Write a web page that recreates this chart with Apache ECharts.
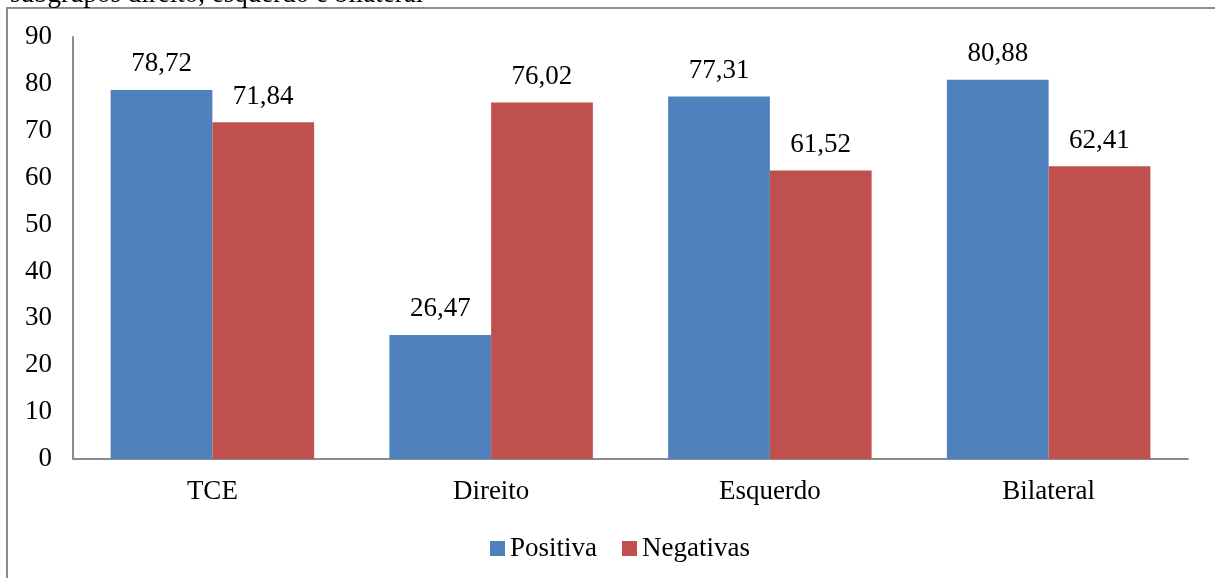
<!DOCTYPE html>
<html>
<head>
<meta charset="utf-8">
<script src="https://cdn.jsdelivr.net/npm/echarts@6/dist/echarts.min.js"></script>
<style>
  html, body { margin: 0; padding: 0; background: #ffffff; }
  #chart { width: 1215px; height: 578px; }
</style>
</head>
<body>
<div id="chart"></div>
<script>
// Categories and series values
const categories = ['TCE', 'Direito', 'Esquerdo', 'Bilateral'];
const positiva = [78.72, 26.47, 77.31, 80.88];
const negativas = [71.84, 76.02, 61.52, 62.41];
const seriesNames = ['Positiva', 'Negativas'];
const captionText = 'subgrupos direito, esquerdo e bilateral';

const FONT = '"Liberation Serif", "Times New Roman", serif';
const FS = 27;
const fmt = v => v.toFixed(2).replace('.', ',');

const chart = echarts.init(document.getElementById('chart'));

const labelStyle = {
  show: true,
  position: 'top',
  distance: 12,
  fontFamily: FONT,
  fontSize: FS,
  color: '#000',
  formatter: p => fmt(p.value)
};

chart.setOption({
  animation: false,
  backgroundColor: '#ffffff',
  textStyle: { fontFamily: FONT },
  graphic: [
    {
      type: 'rect',
      shape: { x: 7, y: 8, width: 1400, height: 800 },
      style: { fill: 'none', stroke: '#8c8c8c', lineWidth: 2 },
      silent: true
    },
    {
      type: 'text',
      x: 10,
      y: 8,
      style: {
        text: captionText,
        fontFamily: FONT,
        fontSize: FS,
        fill: '#000',
        verticalAlign: 'bottom'
      },
      silent: true
    }
  ],
  legend: {
    data: seriesNames,
    left: 485,
    top: 530,
    itemWidth: 15,
    itemHeight: 15,
    itemGap: 25,
    icon: 'rect',
    textStyle: { fontFamily: FONT, fontSize: FS, color: '#000' }
  },
  grid: { left: 73, right: 27, top: 37, bottom: 119, containLabel: false },
  xAxis: {
    type: 'category',
    data: categories,
    axisLine: { lineStyle: { color: '#8c8c8c', width: 2 } },
    axisTick: { show: false },
    axisLabel: { fontFamily: FONT, fontSize: FS, color: '#000', margin: 19 }
  },
  yAxis: {
    type: 'value',
    min: 0,
    max: 90,
    interval: 10,
    axisLine: { show: true, lineStyle: { color: '#8c8c8c', width: 2 } },
    axisTick: { show: false },
    splitLine: { show: false },
    axisLabel: { fontFamily: FONT, fontSize: FS, color: '#000', margin: 21 }
  },
  series: [
    {
      name: seriesNames[0],
      type: 'bar',
      data: positiva,
      barGap: '0%',
      barCategoryGap: '27%',
      itemStyle: { color: '#4f81bd' },
      label: labelStyle
    },
    {
      name: seriesNames[1],
      type: 'bar',
      data: negativas,
      itemStyle: { color: '#c0504d' },
      label: labelStyle
    }
  ]
});
</script>
</body>
</html>
